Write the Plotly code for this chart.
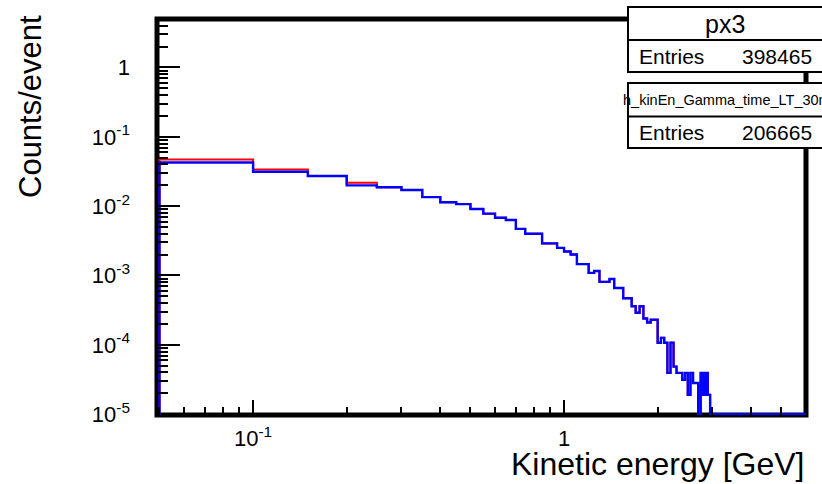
import plotly.graph_objects as go
import numpy as np

# ---------------- data ----------------
BIN_START = 0.05
BIN_WIDTH = 0.05
N_BINS = 119

BLUE_VALUES = [
    0.0425, 0.0313, 0.0272, 0.0199, 0.0187, 0.0171, 0.0135, 0.0114, 0.0107, 0.0091,
    0.0078, 0.0068, 0.0063, 0.0047, 0.0040, 0.0040, 0.0029, 0.0029, 0.0025, 0.00222,
    0.00201, 0.00146, 0.00146, 0.00109, 0.00116, 0.00081, 0.00081, 0.00089, 0.00066, 0.00066,
    0.00047, 0.00047, 0.00036, 0.00029, 0.00036, 0.00024, 0.00021, 0.00023, 0.00023, 0.000107,
    0.000126, 0.000107, 0.0000394, 0.000107, 0.0000485, 0.0000394, 0.0000394, 0.0000312, 0.0000394, 0.000019,
    0.0000394, 0.0000282, 0.0000282, 0.0, 0.0000394, 0.000019, 0.0000394, 0.000019, 0.0,
] + [0.0] * 60

RED_VALUES = [
    0.0469, 0.0339, 0.0272, 0.0217, 0.0187, 0.0171, 0.0135, 0.0114, 0.0107, 0.0091,
    0.0078, 0.0068, 0.0063, 0.0047, 0.0040, 0.0040, 0.0029, 0.0029, 0.0025, 0.00222,
    0.00201, 0.00146, 0.00146, 0.00109, 0.00116, 0.00081, 0.00081, 0.00089, 0.00066, 0.00066,
    0.00047, 0.00047, 0.00036, 0.00029, 0.00036, 0.00024, 0.00021, 0.00023, 0.00023, 0.000107,
    0.000126, 0.000107, 0.0000394, 0.000107, 0.0000485, 0.0000394, 0.0000394, 0.0000312, 0.0000394, 0.000019,
    0.0000394, 0.0000282, 0.0000282, 0.0, 0.0000394, 0.000019, 0.0000394, 0.000019, 0.0,
] + [0.0] * 60

Y_TICK_VALUES = [1e-5, 1e-4, 1e-3, 1e-2, 1e-1, 1]
Y_TICK_LABELS = ["10<sup>-5</sup>", "10<sup>-4</sup>", "10<sup>-3</sup>",
                 "10<sup>-2</sup>", "10<sup>-1</sup>", "1"]
X_TICK_VALUES = [0.1, 1]
X_TICK_LABELS = ["10<sup>-1</sup>", "1"]

STAT_TITLES = ["px3", "h_kinEn_Gamma_time_LT_30ns"]
STAT_ENTRIES = [398465, 206665]

X_TITLE = "Kinetic energy [GeV]"
Y_TITLE = "Counts/event"

Y_MIN = 1e-5
Y_MAX = 5.0
X_MIN = 0.05
X_MAX = 6.0

# ---------------- layout geometry ----------------
W, H = 822, 484
ML, MR, MT, MB = 157, 16, 19, 69
PW, PH = W - ML - MR, H - MT - MB
FONT = "Liberation Sans, Arial, Helvetica, sans-serif"


def px_x(px):
    return (px - ML) / PW


def px_y(py):
    return (H - MB - py) / PH


def step_xy(values):
    edges = BIN_START + BIN_WIDTH * np.arange(N_BINS + 1)
    vals = [v if v > 0 else Y_MIN for v in values]
    xs = [edges[0]] + list(edges[:-1]) + [edges[-1]]
    ys = [Y_MIN] + vals + [vals[-1]]
    return xs, ys


fig = go.Figure()
for values, color, width in [(RED_VALUES, "#ff0000", 2.0), (BLUE_VALUES, "#0000ff", 2.4)]:
    xs, ys = step_xy(values)
    fig.add_trace(go.Scatter(x=xs, y=ys, mode="lines", line=dict(color=color, width=width, shape="hv"),
                             hoverinfo="skip", showlegend=False))


def minor_vals(lo_exp, hi_exp):
    out = []
    for e in range(lo_exp, hi_exp + 1):
        for m in range(2, 10):
            out.append(m * 10.0 ** e)
    return out


fig.update_xaxes(
    type="log",
    range=[np.log10(X_MIN) - 0.008, np.log10(X_MAX)],
    showgrid=False, zeroline=False, showline=False,
    tickmode="array", tickvals=X_TICK_VALUES, ticktext=X_TICK_LABELS,
    ticks="inside", ticklen=15, tickwidth=2, tickcolor="black",
    minor=dict(tickmode="array", tickvals=minor_vals(-2, 0), ticks="inside", ticklen=8,
               tickwidth=2, tickcolor="black", showgrid=False),
    tickfont=dict(family=FONT, size=22, color="black"),
    ticklabelstandoff=8,
)
fig.update_yaxes(
    type="log",
    range=[np.log10(Y_MIN) - 0.012, np.log10(Y_MAX)],
    showgrid=False, zeroline=False, showline=False,
    tickmode="array", tickvals=Y_TICK_VALUES, ticktext=Y_TICK_LABELS,
    ticks="inside", ticklen=23, tickwidth=2, tickcolor="black",
    minor=dict(tickmode="array", tickvals=minor_vals(-5, 0), ticks="inside", ticklen=11,
               tickwidth=2, tickcolor="black", showgrid=False),
    tickfont=dict(family=FONT, size=22, color="black"),
    ticklabelstandoff=26,
)

shapes = [
    # frame
    dict(type="rect", xref="paper", yref="paper", x0=0, x1=1, y0=0, y1=1,
         line=dict(color="black", width=5), layer="below"),
]
# stat boxes
box_l, box_r = 628, 824
for top, sep, bot in [(7, 40, 72), (83, 116.5, 148)]:
    shapes.append(dict(type="rect", xref="paper", yref="paper",
                       x0=px_x(box_l), x1=px_x(box_r), y0=px_y(bot), y1=px_y(top),
                       line=dict(color="black", width=2), fillcolor="white", layer="above"))
    shapes.append(dict(type="line", xref="paper", yref="paper",
                       x0=px_x(box_l), x1=px_x(box_r), y0=px_y(sep), y1=px_y(sep),
                       line=dict(color="black", width=2), layer="above"))

annotations = [
    dict(text=STAT_TITLES[0], x=px_x(725), y=px_y(24), xanchor="center", yanchor="middle",
         font=dict(family=FONT, size=25, color="black")),
    dict(text="Entries", x=px_x(637), y=px_y(56), xanchor="left", yanchor="middle",
         font=dict(family=FONT, size=21, color="black")),
    dict(text=str(STAT_ENTRIES[0]), x=px_x(814), y=px_y(56), xanchor="right", yanchor="middle",
         font=dict(family=FONT, size=21, color="black")),
    dict(text=STAT_TITLES[1], x=px_x(728), y=px_y(99.5), xanchor="center", yanchor="middle",
         font=dict(family=FONT, size=14.5, color="black")),
    dict(text="Entries", x=px_x(637), y=px_y(132.5), xanchor="left", yanchor="middle",
         font=dict(family=FONT, size=21, color="black")),
    dict(text=str(STAT_ENTRIES[1]), x=px_x(814), y=px_y(132.5), xanchor="right", yanchor="middle",
         font=dict(family=FONT, size=21, color="black")),
    dict(text=X_TITLE, x=px_x(806), y=px_y(464), xanchor="right", yanchor="middle",
         font=dict(family=FONT, size=32, color="black")),
    dict(text=Y_TITLE, x=px_x(30), y=px_y(107), xanchor="center", yanchor="middle", textangle=-90,
         font=dict(family=FONT, size=31, color="black")),
]
for a in annotations:
    a.update(xref="paper", yref="paper", showarrow=False)

fig.update_layout(
    width=W, height=H,
    margin=dict(l=ML, r=MR, t=MT, b=MB, pad=0),
    paper_bgcolor="white", plot_bgcolor="white",
    shapes=shapes, annotations=annotations,
    showlegend=False,
)

fig.write_html("out.html", config={"displayModeBar": False},
               post_script="document.body.style.margin='0';document.body.style.overflow='hidden';")
